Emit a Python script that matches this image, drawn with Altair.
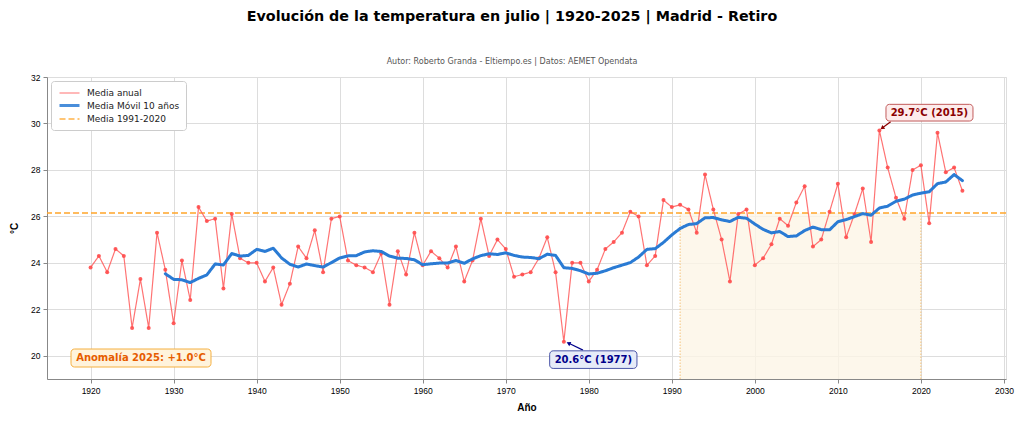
import altair as alt
import pandas as pd

# ---------------- data ----------------
years = list(range(1920, 2026))
temps = [
    23.8, 24.3, 23.6, 24.6, 24.3, 21.2, 23.3, 21.2, 25.3, 23.7,   # 1920-1929
    21.4, 24.1, 22.4, 26.4, 25.8, 25.9, 22.9, 26.1, 24.2, 24.0,   # 1930-1939
    24.0, 23.2, 23.8, 22.2, 23.1, 24.7, 24.2, 25.4, 23.6, 25.9,   # 1940-1949
    26.0, 24.1, 23.9, 23.8, 23.6, 24.4, 22.2, 24.5, 23.5, 25.3,   # 1950-1959
    23.9, 24.5, 24.2, 23.8, 24.7, 23.2, 24.1, 25.9, 24.3, 25.0,   # 1960-1969
    24.6, 23.4, 23.5, 23.6, 24.2, 25.1, 23.6, 20.6, 24.0, 24.0,   # 1970-1979
    23.2, 23.7, 24.6, 24.9, 25.3, 26.2, 26.0, 23.9, 24.3, 26.7,   # 1980-1989
    26.4, 26.5, 26.3, 25.3, 27.8, 26.3, 25.0, 23.2, 26.1, 26.3,   # 1990-1999
    23.9, 24.2, 24.8, 25.9, 25.6, 26.6, 27.3, 24.7, 25.0, 26.2,   # 2000-2009
    27.4, 25.1, 26.1, 27.2, 24.9, 29.7, 28.1, 26.8, 25.9, 28.0,   # 2010-2019
    28.2, 25.7, 29.6, 27.9, 28.1, 27.1,                           # 2020-2025
]
baseline = 26.15              # Media 1991-2020
period = [1991, 2020]
series = ["Media anual", "Media Móvil 10 años", "Media 1991-2020"]
max_year, max_temp, max_label = 2015, 29.7, "29.7°C (2015)"
min_year, min_temp, min_label = 1977, 20.6, "20.6°C (1977)"
anomaly_label = "Anomalía 2025: +1.0°C"
x_ticks = list(range(1920, 2031, 10))
y_ticks = list(range(20, 33, 2))

FONT = "DejaVu Sans"
C_ANNUAL = "#ff5a5a"
C_POINT = "#ff4b4b"
C_MA = "#2a7bd4"
C_BASE = "#ffa52a"

df = pd.DataFrame({"year": years, "temp": temps, "serie": series[0]})
base_df = pd.DataFrame({"temp": [baseline], "serie": [series[2]]})
span_df = pd.DataFrame({"start": [period[0]], "end": [period[1]], "top": [baseline], "bottom": [19.0]})
vline_df = pd.DataFrame({"year": period, "top": [baseline] * 2, "bottom": [19.0] * 2})
max_df = pd.DataFrame({"year": [max_year], "temp": [max_temp], "label": [max_label]})
min_df = pd.DataFrame({"year": [min_year], "temp": [min_temp], "label": [min_label]})

x_scale = alt.Scale(domain=[1914.75, 2030.25], nice=False, zero=False)
y_scale = alt.Scale(domain=[19, 32], nice=False, zero=False)

x_enc = alt.X("year:Q", scale=x_scale,
              axis=alt.Axis(title="Año", values=x_ticks, format="d", labelFlush=False,
                            titleFontWeight="bold", titleFontSize=10, titlePadding=8,
                            labelFontSize=8.5, labelPadding=3, tickSize=4))
y_enc = alt.Y("temp:Q", scale=y_scale,
              axis=alt.Axis(title="°C", values=y_ticks, format="d",
                            titleFontWeight="bold", titleFontSize=10, titlePadding=11,
                            labelFontSize=8.5, labelPadding=3, tickSize=4))

leg_color = alt.Color("serie:N", scale=alt.Scale(domain=series, range=[C_ANNUAL, C_MA, C_BASE]),
                      legend=alt.Legend(title=None, orient="none", legendX=4, legendY=4,
                                        symbolType="M-2,0H2", symbolSize=100,
                                        labelFontSize=9, labelFont=FONT, labelColor="#222",
                                        fillColor="white", strokeColor="#cccccc",
                                        cornerRadius=3, padding=6, rowPadding=1,
                                        symbolOffset=6, labelOffset=11))
leg_dash = alt.StrokeDash("serie:N", scale=alt.Scale(domain=series, range=[[1, 0], [1, 0], [6, 3]]),
                          legend=alt.Legend(title=None))
leg_width = alt.StrokeWidth("serie:N",
                            scale=alt.Scale(type="ordinal", domain=series, range=[1.2, 3, 1.5]),
                            legend=alt.Legend(title=None))

span = alt.Chart(span_df).mark_rect(color="#fdf5e6", opacity=0.8).encode(
    x=alt.X("start:Q", scale=x_scale), x2="end:Q",
    y=alt.Y("bottom:Q", scale=y_scale), y2="top:Q")

vlines = alt.Chart(vline_df).mark_rule(color="#f5c27a", strokeDash=[1.5, 1.5], strokeWidth=1).encode(
    x="year:Q", y="bottom:Q", y2="top:Q")

base_rule = alt.Chart(base_df).mark_rule().encode(
    y="temp:Q", color=leg_color, strokeDash=leg_dash, strokeWidth=leg_width)

annual_line = alt.Chart(df).mark_line(opacity=0.85).encode(
    x=x_enc, y=y_enc, color=leg_color, strokeDash=leg_dash, strokeWidth=leg_width)

annual_pts = alt.Chart(df).mark_circle(size=16, opacity=0.9, color=C_POINT).encode(
    x="year:Q", y="temp:Q")

ma_line = alt.Chart(df).transform_window(
    ma="mean(temp)", cnt="count()", frame=[-9, 0], sort=[alt.SortField("year")]
).transform_filter("datum.cnt == 10").transform_calculate(
    serie='"Media Móvil 10 años"'
).mark_line(strokeCap="round", strokeJoin="round").encode(
    x="year:Q", y=alt.Y("ma:Q"), color=leg_color, strokeDash=leg_dash, strokeWidth=leg_width)

# annotation: max
max_box = alt.Chart(max_df).mark_rect(
    fill="#fdecec", stroke="#c25b5b", strokeWidth=1, cornerRadius=3.5,
    xOffset=6.6, x2Offset=93.6, yOffset=-26.1, y2Offset=-9.4).encode(
    x="year:Q", x2="year:Q", y="temp:Q", y2="temp:Q")
max_text = alt.Chart(max_df).mark_text(
    font=FONT, fontSize=10, fontWeight="bold", color="#8b0000",
    align="center", baseline="middle", dx=50, dy=-17.7).encode(
    x="year:Q", y="temp:Q", text="label:N")
max_arrow = alt.Chart(max_df).mark_rule(
    color="#8b0000", strokeWidth=1.2,
    xOffset=11.3, x2Offset=3.5, yOffset=-8.7, y2Offset=-2.9).encode(
    x="year:Q", x2="year:Q", y="temp:Q", y2="temp:Q")
max_head = alt.Chart(max_df).mark_point(
    shape="triangle", filled=True, size=22, color="#8b0000", opacity=1,
    angle=233, xOffset=3.3, yOffset=-2.8).encode(x="year:Q", y="temp:Q")

# annotation: min
min_box = alt.Chart(min_df).mark_rect(
    fill="#e6ebf8", stroke="#4a55a8", strokeWidth=1, cornerRadius=3.5,
    xOffset=-14.2, x2Offset=73.1, yOffset=9, y2Offset=26.6).encode(
    x="year:Q", x2="year:Q", y="temp:Q", y2="temp:Q")
min_text = alt.Chart(min_df).mark_text(
    font=FONT, fontSize=10, fontWeight="bold", color="#00008b",
    align="center", baseline="middle", dx=29.5, dy=17.8).encode(
    x="year:Q", y="temp:Q", text="label:N")
min_arrow = alt.Chart(min_df).mark_rule(
    color="#00008b", strokeWidth=1.2,
    xOffset=19.1, x2Offset=5.5, yOffset=8.3, y2Offset=1.7).encode(
    x="year:Q", x2="year:Q", y="temp:Q", y2="temp:Q")
min_head = alt.Chart(min_df).mark_point(
    shape="triangle", filled=True, size=22, color="#00008b", opacity=1,
    angle=295, xOffset=5.2, yOffset=1.6).encode(x="year:Q", y="temp:Q")

# anomaly box (axes-fraction placement)
anom_box = alt.Chart(max_df).mark_rect(
    fill="#fff3dc", stroke="#f5b041", strokeWidth=1, cornerRadius=3.5).encode(
    x=alt.value(24), x2=alt.value(164), y=alt.value(272), y2=alt.value(290))
anom_text = alt.Chart(max_df).mark_text(
    font=FONT, fontSize=10, fontWeight="bold", color="#e65c00",
    align="center", baseline="middle").encode(
    x=alt.value(94), y=alt.value(281), text=alt.value(anomaly_label))

chart = alt.layer(
    span, vlines, base_rule, annual_line, annual_pts, ma_line,
    max_arrow, max_head, max_box, max_text,
    min_arrow, min_head, min_box, min_text,
    anom_box, anom_text,
).resolve_scale(color="shared").properties(
    width=959, height=302,
    autosize=alt.AutoSizeParams(type="none"),
    padding={"left": 39, "top": 69, "right": 10, "bottom": 36},
    title=alt.TitleParams(
        text="Evolución de la temperatura en julio | 1920-2025 | Madrid - Retiro",
        subtitle="Autor: Roberto Granda - Eltiempo.es | Datos: AEMET Opendata",
        font=FONT, fontSize=14.3, fontWeight="bold", color="#000",
        subtitleFont=FONT, subtitleFontSize=8, subtitleColor="#555",
        anchor="middle", offset=7, subtitlePadding=34, dx=-14.5),
).configure_view(
    fill="#f9f9f9", stroke="#dddddd", strokeWidth=1
).configure_axis(
    labelFont=FONT, titleFont=FONT, labelColor="#222", titleColor="#000",
    domainColor="#555", domainWidth=1, tickColor="#555",
    gridColor="#ebebeb", gridWidth=0.8,
).configure(background="white")

chart.save("out.html", embed_options={"renderer": "svg", "actions": False})
